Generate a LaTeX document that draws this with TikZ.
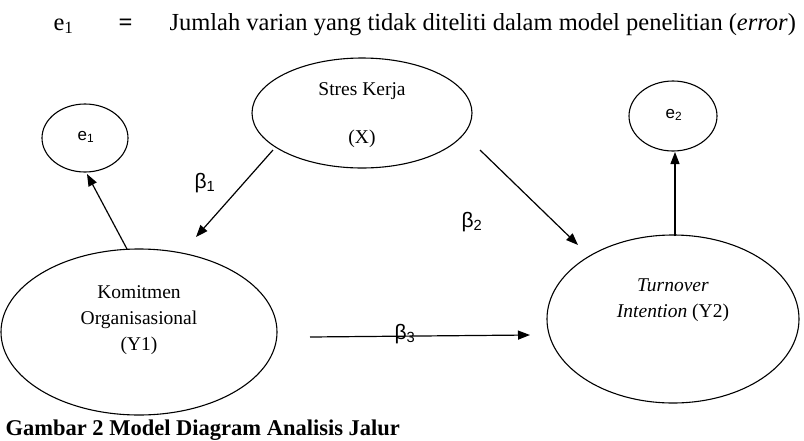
\documentclass[tikz,border=0pt]{standalone}
\usepackage{fontspec}
\setmainfont{Liberation Serif}
\newfontfamily\sansf{Liberation Sans}
\usetikzlibrary{arrows.meta}
\begin{document}
\begin{tikzpicture}[x=1pt,y=-1pt,
  ell/.style={line width=1.1pt},
  arr/.style={line width=1.2pt,-{Triangle[length=12pt,width=9pt]}},
  lbl/.style={font=\fontsize{19.5}{26}\selectfont,align=center},
  bet/.style={font=\sansf\fontsize{21}{24}\selectfont},
  enode/.style={font=\sansf\fontsize{17}{19}\selectfont},
  top/.style={font=\fontsize{24.5}{28}\selectfont,anchor=base west}]
\useasboundingbox (0,0) rectangle (804,440);
% header line
\node[top] (he) at (50,30) {e\textsubscript{1}};
\node[top] (heq) at (115,30) {\textbf{=}};
\node[top] (htx) at (166,30) {Jumlah varian yang tidak diteliti dalam model penelitian (\textit{error})};
% ellipses
\draw[ell] (362,113) ellipse [x radius=110,y radius=55];
\node[lbl] (xt1) at (362,91) {Stres Kerja};
\node[lbl] (xt2) at (362,139) {(X)};
\draw[ell] (85,138) ellipse [x radius=43,y radius=34];
\node[enode] (e1) at (86,137) {e\textsubscript{1}};
\draw[ell] (673,116) ellipse [x radius=44,y radius=35];
\node[enode] (e2) at (674,115) {e\textsubscript{2}};
\draw[ell] (139,332) ellipse [x radius=138,y radius=83];
\node[lbl] (y1) at (139,320) {Komitmen\\Organisasional\\(Y1)};
\draw[ell] (673,319) ellipse [x radius=126,y radius=84];
\node[lbl] (y2) at (673,300) {\textit{Turnover}\\\textit{Intention} (Y2)};
% arrow end coordinates
\coordinate (a1s) at (273,150); \coordinate (a1e) at (196,237);
\coordinate (a2s) at (480,150); \coordinate (a2e) at (578,245);
\coordinate (a3s) at (310,337); \coordinate (a3e) at (530,335);
\coordinate (a4s) at (127,249); \coordinate (a4e) at (87,174);
\coordinate (a5s) at (675,236); \coordinate (a5e) at (675,152);
\draw[arr] (a1s) -- (a1e);
\draw[arr] (a2s) -- (a2e);
\draw[arr] (a3s) -- (a3e);
\draw[arr] (a4s) -- (a4e);
\draw[arr] (a5s) -- (a5e);
\node[bet] (b1) at (205,183) {β\textsubscript{1}};
\node[bet] (b2) at (472,222) {β\textsubscript{2}};
\node[bet] (b3) at (405,334) {β\textsubscript{3}};
% caption
\node[font=\bfseries\fontsize{22.5}{26}\selectfont,anchor=base west] (cap) at (2,435) {Gambar 2 Model Diagram Analisis Jalur};
\end{tikzpicture}
\end{document}
